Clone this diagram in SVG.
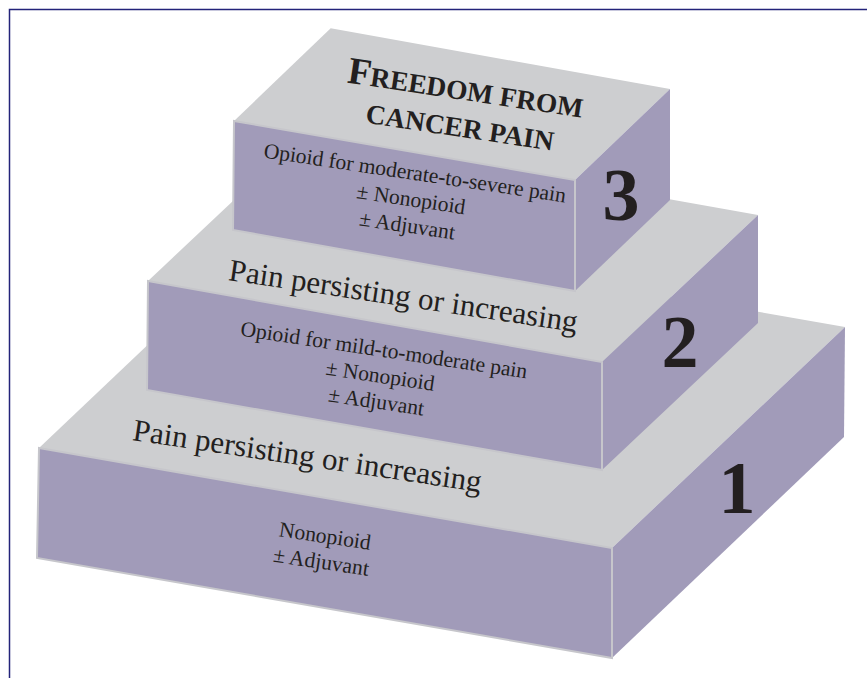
<svg xmlns="http://www.w3.org/2000/svg" width="867" height="678" viewBox="0 0 867 678">
<style>
.top{fill:#cdced0;}
.front{fill:#a19bb9;stroke:#c6c6cb;stroke-width:2;stroke-linejoin:miter;}
.side{fill:#a19bb9;}
.t{font-family:"Liberation Serif","DejaVu Serif",serif;fill:#231f20;}
.small{font-size:21.6px;}
.mid{font-size:31px;}
.num{font-size:74px;font-weight:bold;}
.title{font-weight:bold;}
</style>
<path d="M9.5,678 V9.5 H867" fill="none" stroke="#23237a" stroke-width="1.5"/>
<g id="step1">
<polygon class="top" points="39,448 612,548 845,327 272,227"/>
<polygon class="side" points="612,548 845,327 844,437 612,658"/>
<polygon class="front" points="39,448 612,548 612,658 37,558"/>
<text class="t small" text-anchor="middle" transform="translate(324,543) rotate(8.5)"><tspan x="0" y="0">Nonopioid</tspan><tspan x="0" dy="26">± Adjuvant</tspan></text>
<text class="t num" text-anchor="middle" x="737" y="513">1</text>
</g>
<g id="step2">
<polygon class="top" points="148,281 602,362 758,215 304,134"/>
<polygon class="side" points="602,362 758,215 758,323 602,470"/>
<polygon class="front" points="148,281 602,362 602,470 147,390"/>
<text class="t mid" text-anchor="middle" transform="translate(306,466) rotate(8.5)">Pain persisting or increasing</text>
<text class="t small" text-anchor="middle" transform="translate(383,357) rotate(8.5)"><tspan x="0" y="0">Opioid for mild-to-moderate pain</tspan><tspan x="0" dy="26">± Nonopioid</tspan><tspan x="0" dy="26">± Adjuvant</tspan></text>
<text class="t num" text-anchor="middle" x="680" y="367">2</text>
</g>
<g id="step3">
<polygon class="top" points="330.7,28.3 670,89 575,180 234,121"/>
<polygon class="side" points="575,180 670,89 670,200 575,291"/>
<polygon class="front" points="234,121 575,180 575,291 233,230"/>
<text class="t mid" text-anchor="middle" transform="translate(402,306) rotate(8.5)">Pain persisting or increasing</text>
<text class="t small" text-anchor="middle" transform="translate(414,180) rotate(8.5)"><tspan x="0" y="0">Opioid for moderate-to-severe pain</tspan><tspan x="0" dy="26.5">± Nonopioid</tspan><tspan x="0" dy="26.5">± Adjuvant</tspan></text>
<text class="t num" text-anchor="middle" x="621" y="220">3</text>
</g>
<g id="goal">
<text class="t title" text-anchor="middle" transform="translate(464,100) rotate(8.5)"><tspan x="0" y="0"><tspan font-size="38">F</tspan><tspan font-size="27.5">REEDOM FROM</tspan></tspan><tspan x="0" dy="37" font-size="27.5">CANCER PAIN</tspan></text>
</g>
<g id="connectors"></g>
</svg>
